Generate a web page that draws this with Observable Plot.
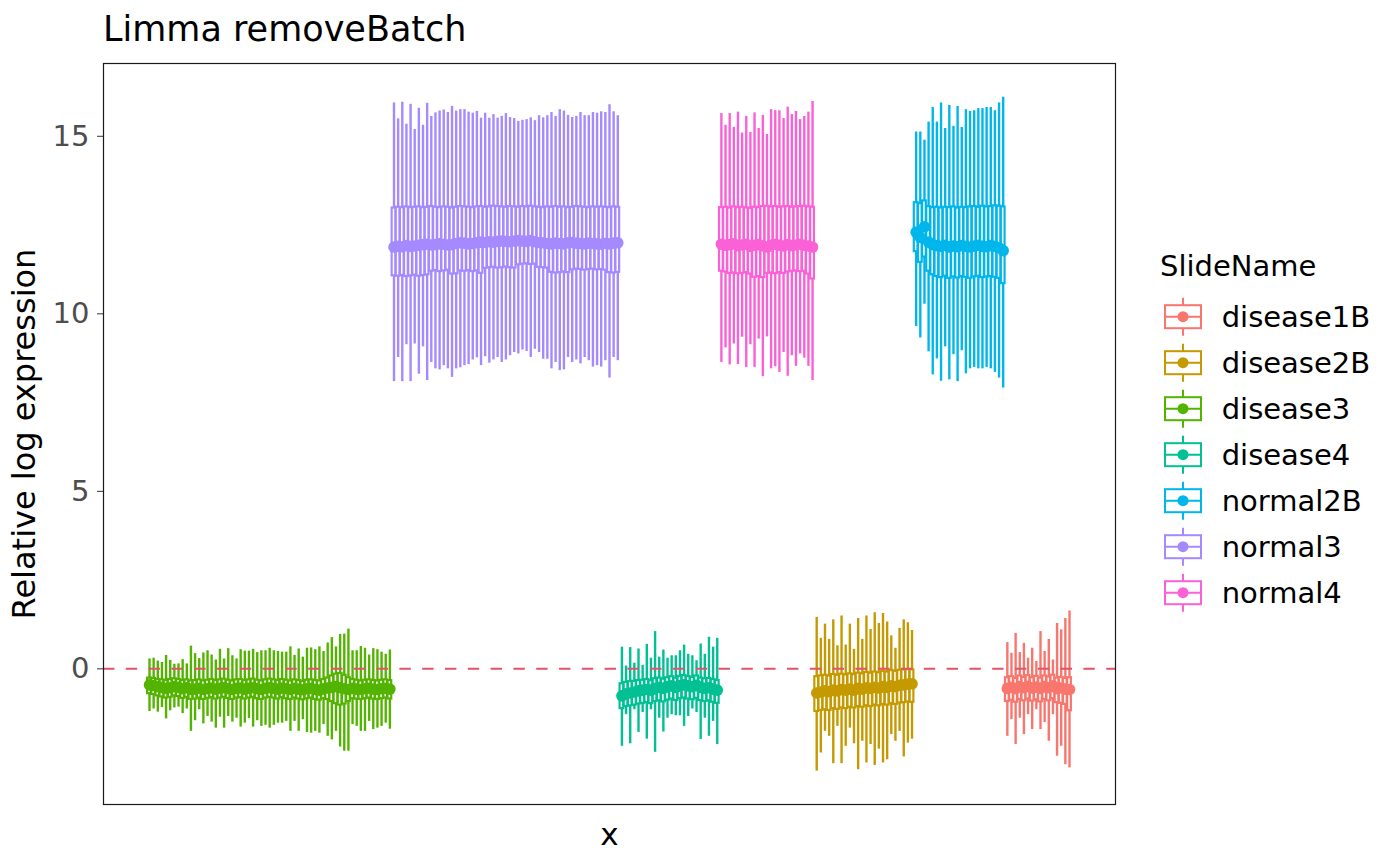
<!DOCTYPE html>
<html><head><meta charset="utf-8">
<script src="https://cdn.jsdelivr.net/npm/d3@7"></script>
<script src="https://cdn.jsdelivr.net/npm/@observablehq/plot@0.6"></script>
<style>
body{margin:0;background:#fff;font-family:"DejaVu Sans",sans-serif;}
#wrap{position:relative;width:1400px;height:865px;overflow:hidden;background:#fff;}
#title{position:absolute;left:103px;top:12px;font-size:35px;line-height:35px;color:#000;white-space:nowrap;}
#chart{position:absolute;left:0;top:52px;}
#legend{position:absolute;left:1150px;top:240px;}
#chart g[aria-label="y-axis label"]{font-size:32px;}
#chart g[aria-label="x-axis label"]{font-size:31px;}
</style></head>
<body><div id="wrap"><div id="title">Limma removeBatch</div><div id="chart"></div><div id="legend"></div></div>
<script>
// ---- categories ----
const slideNames = ["disease1B","disease2B","disease3","disease4","normal2B","normal3","normal4"];
const slideColors = ["#F8766D","#C49A00","#53B400","#00C094","#00B6EB","#A58AFF","#FB61D7"];
const xOrder = ["disease3","normal3","disease4","normal4","disease2B","normal2B","disease1B"];
const yTicks = [0, 5, 10, 15];
const refLine = [0];

// ---- disease3 (59) ----
const disease3_max = [0.28,0.30,0.22,0.18,0.38,0.24,0.13,0.14,0.26,0.14,0.64,0.43,0.29,0.45,0.51,0.39,0.25,0.55,0.28,0.57,0.37,0.28,0.54,0.50,0.50,0.55,0.46,0.51,0.51,0.58,0.51,0.49,0.47,0.47,0.62,0.38,0.56,0.33,0.58,0.59,0.54,0.62,0.49,0.73,0.88,0.62,0.97,0.98,1.12,0.51,0.51,0.63,0.58,0.39,0.57,0.54,0.47,0.41,0.53];
const disease3_q3 = [-0.26,-0.27,-0.30,-0.31,-0.33,-0.30,-0.28,-0.30,-0.33,-0.31,-0.34,-0.33,-0.31,-0.34,-0.32,-0.30,-0.33,-0.31,-0.29,-0.32,-0.34,-0.31,-0.30,-0.33,-0.31,-0.29,-0.32,-0.34,-0.31,-0.29,-0.31,-0.33,-0.30,-0.32,-0.34,-0.31,-0.33,-0.35,-0.32,-0.31,-0.33,-0.34,-0.30,-0.26,-0.20,-0.15,-0.13,-0.18,-0.25,-0.30,-0.32,-0.34,-0.32,-0.31,-0.33,-0.34,-0.32,-0.31,-0.33];
const disease3_med = [-0.45,-0.47,-0.50,-0.52,-0.55,-0.53,-0.50,-0.52,-0.56,-0.53,-0.58,-0.57,-0.55,-0.58,-0.56,-0.54,-0.57,-0.55,-0.53,-0.56,-0.58,-0.55,-0.54,-0.57,-0.55,-0.53,-0.56,-0.58,-0.55,-0.53,-0.55,-0.57,-0.54,-0.56,-0.58,-0.55,-0.57,-0.59,-0.56,-0.55,-0.58,-0.60,-0.56,-0.54,-0.52,-0.50,-0.53,-0.56,-0.58,-0.55,-0.57,-0.58,-0.56,-0.55,-0.57,-0.58,-0.56,-0.55,-0.57];
const disease3_q1 = [-0.70,-0.72,-0.76,-0.79,-0.82,-0.80,-0.76,-0.78,-0.83,-0.80,-0.86,-0.85,-0.82,-0.86,-0.83,-0.81,-0.85,-0.82,-0.80,-0.83,-0.86,-0.82,-0.81,-0.85,-0.82,-0.80,-0.84,-0.86,-0.82,-0.80,-0.82,-0.85,-0.81,-0.84,-0.86,-0.82,-0.85,-0.87,-0.84,-0.82,-0.86,-0.88,-0.84,-0.86,-0.92,-0.98,-1.02,-0.99,-0.92,-0.84,-0.85,-0.86,-0.84,-0.82,-0.85,-0.86,-0.84,-0.82,-0.85];
const disease3_min = [-1.20,-1.13,-1.22,-1.09,-1.41,-1.18,-1.10,-1.08,-1.26,-1.13,-1.76,-1.46,-1.15,-1.55,-1.34,-1.50,-1.67,-1.36,-1.67,-1.34,-1.50,-1.39,-1.64,-1.53,-1.40,-1.64,-1.46,-1.62,-1.59,-1.67,-1.59,-1.53,-1.53,-1.48,-1.76,-1.48,-1.76,-1.43,-1.79,-1.81,-1.76,-1.81,-1.57,-1.90,-2.00,-1.76,-2.20,-2.32,-2.32,-1.57,-1.62,-1.76,-1.76,-1.48,-1.71,-1.67,-1.62,-1.53,-1.70];

// ---- normal3 (55) ----
const normal3_max = [15.94,15.49,15.96,15.34,15.90,15.19,15.79,15.31,15.93,15.56,15.66,15.71,15.74,15.67,15.84,15.71,15.75,15.75,15.68,15.65,15.70,15.51,15.65,15.51,15.61,15.51,15.56,15.64,15.53,15.50,15.42,15.45,15.47,15.52,15.44,15.58,15.52,15.58,15.67,15.56,15.75,15.71,15.59,15.53,15.56,15.67,15.58,15.58,15.67,15.65,15.69,15.67,15.89,15.69,15.58];
const normal3_q3 = [12.98,13.00,12.99,13.01,12.99,13.00,13.01,12.99,13.00,13.02,13.00,12.99,13.01,13.00,12.98,13.00,13.02,13.01,13.00,12.99,13.01,13.02,13.00,13.01,13.03,13.02,13.01,13.00,13.02,13.01,13.00,13.02,13.01,13.03,13.01,13.00,12.99,13.01,13.00,13.02,13.00,13.01,12.99,13.00,13.02,13.01,13.00,12.99,13.01,13.00,13.01,13.00,12.99,13.01,13.00];
const normal3_med = [11.88,11.90,11.89,11.92,11.90,11.91,11.93,11.95,11.96,11.94,11.95,11.97,11.96,11.94,11.95,11.98,12.00,11.99,11.97,11.98,12.00,12.02,12.01,12.03,12.02,12.04,12.05,12.04,12.03,12.05,12.06,12.05,12.04,12.06,12.03,12.01,12.00,11.98,11.97,11.99,11.98,11.97,12.00,12.01,11.99,11.98,11.97,11.99,11.98,11.97,11.96,11.98,11.97,11.99,12.00];
const normal3_q1 = [11.07,11.06,11.08,11.05,11.07,11.09,11.06,11.08,11.10,11.20,11.22,11.19,11.21,11.23,11.12,11.13,11.21,11.20,11.22,11.19,11.21,11.14,11.28,11.30,11.31,11.29,11.30,11.32,11.30,11.29,11.38,11.40,11.41,11.39,11.40,11.31,11.30,11.29,11.17,11.15,11.16,11.18,11.16,11.24,11.26,11.25,11.23,11.25,11.26,11.24,11.25,11.23,11.16,11.15,11.17];
const normal3_min = [8.09,8.77,8.09,9.13,8.09,9.15,8.30,9.07,8.12,8.63,8.45,8.42,8.54,8.45,8.21,8.45,8.48,8.54,8.57,8.70,8.76,8.54,8.79,8.61,8.70,8.77,8.63,8.70,8.82,8.91,8.87,8.98,8.94,8.77,9.00,8.91,8.72,8.72,8.45,8.63,8.40,8.42,8.77,8.63,8.70,8.59,8.77,8.68,8.50,8.54,8.50,8.68,8.19,8.77,8.68];

// ---- disease4 (24) ----
const disease4_max = [0.61,0.08,0.60,0.16,0.56,0.10,0.69,0.30,1.05,0.33,0.53,0.30,0.37,0.37,0.51,0.67,0.41,0.37,0.23,0.70,0.41,0.89,0.61,0.86];
const disease4_q3 = [-0.42,-0.38,-0.36,-0.35,-0.33,-0.32,-0.30,-0.33,-0.28,-0.26,-0.29,-0.25,-0.22,-0.26,-0.21,-0.19,-0.22,-0.24,-0.20,-0.26,-0.28,-0.27,-0.30,-0.33];
const disease4_med = [-0.76,-0.70,-0.68,-0.65,-0.62,-0.60,-0.58,-0.60,-0.55,-0.52,-0.55,-0.50,-0.48,-0.52,-0.47,-0.45,-0.48,-0.50,-0.46,-0.52,-0.55,-0.53,-0.57,-0.60];
const disease4_q1 = [-1.12,-1.06,-1.04,-1.02,-0.99,-0.97,-0.95,-0.98,-0.92,-0.90,-0.93,-0.88,-0.85,-0.89,-0.84,-0.82,-0.85,-0.87,-0.83,-0.89,-0.92,-0.90,-0.94,-0.97];
const disease4_min = [-2.18,-1.29,-2.11,-1.15,-1.79,-1.23,-1.98,-1.15,-2.35,-1.39,-1.78,-1.39,-1.29,-1.32,-1.32,-1.62,-1.34,-1.13,-1.23,-1.99,-1.39,-1.90,-1.48,-2.13];

// ---- normal4 (23) ----
const normal4_max = [15.64,15.31,15.64,15.25,15.68,15.09,15.56,15.11,15.66,15.22,15.59,15.05,15.75,15.72,15.72,15.50,15.82,15.61,15.70,15.47,15.56,15.68,15.98];
const normal4_q3 = [12.99,13.00,12.98,13.01,12.99,13.00,12.98,12.97,13.00,12.99,13.02,13.03,13.01,13.02,13.00,13.01,13.02,13.00,13.01,13.02,13.03,13.01,13.00];
const normal4_med = [11.96,11.93,11.95,11.97,11.92,11.94,11.96,11.90,11.93,11.95,11.91,11.88,11.94,11.96,11.93,11.91,11.95,11.92,11.94,11.96,11.93,11.91,11.88];
const normal4_q1 = [11.20,11.18,11.14,11.15,11.13,11.14,11.16,11.12,11.03,11.05,11.02,11.14,11.15,11.13,11.16,11.14,11.18,11.20,11.21,11.19,11.20,11.12,10.98];
const normal4_min = [8.63,9.04,8.56,9.15,8.57,9.34,8.49,9.13,8.49,9.29,8.23,9.35,8.45,8.51,8.35,8.91,8.24,8.82,8.52,8.87,8.75,8.52,8.12];

// ---- disease2B (24) ----
const disease2B_max = [1.45,0.86,1.26,0.83,1.38,0.65,1.49,0.67,1.26,0.55,1.42,0.83,1.49,1.11,1.58,1.28,1.56,1.32,0.93,0.58,1.14,1.38,1.30,1.08];
const disease2B_q3 = [-0.22,-0.20,-0.18,-0.20,-0.16,-0.18,-0.15,-0.17,-0.14,-0.16,-0.12,-0.14,-0.10,-0.12,-0.09,-0.11,-0.07,-0.09,-0.05,-0.07,-0.04,-0.03,-0.02,-0.03];
const disease2B_med = [-0.68,-0.65,-0.62,-0.64,-0.60,-0.62,-0.58,-0.60,-0.57,-0.60,-0.55,-0.57,-0.53,-0.55,-0.52,-0.54,-0.50,-0.52,-0.48,-0.50,-0.46,-0.45,-0.43,-0.42];
const disease2B_q1 = [-1.20,-1.17,-1.15,-1.17,-1.12,-1.14,-1.10,-1.12,-1.08,-1.10,-1.06,-1.08,-1.04,-1.06,-1.02,-1.04,-1.00,-1.02,-0.98,-1.00,-0.96,-0.95,-0.93,-0.94];
const disease2B_min = [-2.88,-2.37,-1.76,-1.90,-2.67,-1.62,-2.67,-2.18,-1.67,-2.11,-2.84,-2.04,-2.65,-2.13,-2.72,-2.26,-2.65,-2.56,-1.85,-2.04,-1.76,-2.48,-2.09,-1.98];

// ---- normal2B (22) ----
const normal2B_max = [15.12,15.12,14.89,15.40,15.81,15.40,15.94,15.22,15.87,15.28,15.84,15.25,15.75,15.70,15.72,15.78,15.78,15.81,15.81,15.72,15.94,16.10];
const normal2B_q3 = [13.13,13.10,13.18,13.02,12.99,13.00,12.98,13.00,12.99,13.01,12.98,13.00,12.99,13.01,13.02,13.00,13.03,13.01,13.02,13.04,13.03,13.01];
const normal2B_med = [12.30,12.15,12.45,12.02,11.95,11.92,11.90,11.93,11.88,11.91,11.89,11.92,11.90,11.88,11.91,11.93,11.90,11.89,11.92,11.90,11.86,11.78];
const normal2B_q1 = [11.75,11.45,11.60,11.20,11.10,11.05,11.02,11.06,11.00,11.04,11.01,11.05,11.03,11.00,11.04,11.06,11.02,11.04,11.05,11.03,11.00,10.85];
const normal2B_min = [9.64,9.32,10.27,8.93,8.28,8.73,8.10,9.07,8.14,8.85,8.09,8.96,8.31,8.45,8.49,8.45,8.45,8.49,8.45,8.35,8.19,7.91];

// ---- disease1B (16) ----
const disease1B_max = [0.74,0.44,1.00,0.46,0.72,0.30,0.58,0.21,1.05,0.49,0.83,0.25,1.28,1.10,1.42,1.63];
const disease1B_q3 = [-0.25,-0.22,-0.27,-0.20,-0.24,-0.19,-0.25,-0.21,-0.26,-0.20,-0.23,-0.18,-0.26,-0.24,-0.27,-0.25];
const disease1B_med = [-0.55,-0.52,-0.56,-0.50,-0.53,-0.49,-0.54,-0.51,-0.55,-0.50,-0.53,-0.48,-0.56,-0.54,-0.57,-0.58];
const disease1B_q1 = [-0.92,-0.88,-0.94,-0.86,-0.90,-0.85,-0.91,-0.87,-0.93,-0.86,-0.90,-0.84,-0.95,-0.97,-1.00,-1.18];
const disease1B_min = [-1.90,-1.43,-2.13,-1.39,-1.85,-1.29,-1.71,-1.15,-1.71,-1.51,-2.04,-1.29,-2.46,-2.18,-2.70,-2.79];

// ---- assemble table for Plot ----
const stats = {
  disease3: [disease3_max, disease3_q3, disease3_med, disease3_q1, disease3_min],
  normal3: [normal3_max, normal3_q3, normal3_med, normal3_q1, normal3_min],
  disease4: [disease4_max, disease4_q3, disease4_med, disease4_q1, disease4_min],
  normal4: [normal4_max, normal4_q3, normal4_med, normal4_q1, normal4_min],
  disease2B: [disease2B_max, disease2B_q3, disease2B_med, disease2B_q1, disease2B_min],
  normal2B: [normal2B_max, normal2B_q3, normal2B_med, normal2B_q1, normal2B_min],
  disease1B: [disease1B_max, disease1B_q3, disease1B_med, disease1B_q1, disease1B_min]
};
const data = [];
let k = 0;
for (const name of xOrder) {
  const [mx, q3, md, q1, mn] = stats[name];
  for (let i = 0; i < mx.length; i++) {
    k++;
    data.push({x: k, name, max: mx[i], q3: q3[i], med: md[i], q1: q1[i], min: mn[i]});
  }
}
const N = data.length;
const half = 0.45;

const plot = Plot.plot({
  width: 1400, height: 813,
  marginLeft: 103, marginRight: 285, marginTop: 11, marginBottom: 61,
  style: {fontFamily: "DejaVu Sans", background: "white", color: "black"},
  x: {domain: [1 - 0.05 * (N - 1), N + 0.05 * (N - 1)]},
  y: {domain: [-3.82, 17.05]},
  color: {domain: slideNames, range: slideColors},
  marks: [
    Plot.ruleX(data, {x: "x", y1: "q3", y2: "max", stroke: "name", strokeWidth: 2.4}),
    Plot.ruleX(data, {x: "x", y1: "q1", y2: "min", stroke: "name", strokeWidth: 2.4}),
    Plot.rect(data, {x1: d => d.x - half, x2: d => d.x + half, y1: "q1", y2: "q3", fill: "white", stroke: "name", strokeWidth: 2.2}),
    Plot.ruleY(data, {y: "med", x1: d => d.x - half, x2: d => d.x + half, stroke: "name", strokeWidth: 2.2}),
    Plot.dot(data, {x: "x", y: "med", fill: "name", r: 5.8}),
    Plot.ruleY(refLine, {stroke: "#E4516A", strokeWidth: 2, strokeDasharray: "11.4,11.4"}),
    Plot.frame({stroke: "#1a1a1a", strokeWidth: 1.2}),
    Plot.axisY({ticks: yTicks, tickSize: 6, tickPadding: 8, fontSize: 29, stroke: "#333333", fill: "#4D4D4D", label: null}),
    Plot.axisY({ticks: [], tickSize: 0, label: "Relative log expression", labelAnchor: "center", labelArrow: "none", labelOffset: 91, fill: "black"}),
    Plot.axisX({ticks: [], tickSize: 0, label: "x", labelAnchor: "center", labelArrow: "none", labelOffset: 40, fill: "black"})
  ]
});
document.getElementById("chart").appendChild(plot);

// ---- legend ----
const color = plot.scale("color");
const lg = d3.select("#legend").append("svg").attr("width", 250).attr("height", 400)
  .style("font-family", "DejaVu Sans");
lg.append("text").attr("x", 10).attr("y", 36).attr("font-size", 29).text("SlideName");
slideNames.forEach((name, i) => {
  const c = 76.7 + 46 * i;
  const col = color.apply(name);
  const g = lg.append("g");
  g.append("line").attr("x1", 33).attr("x2", 33).attr("y1", c - 19).attr("y2", c + 19).attr("stroke", col).attr("stroke-width", 2);
  g.append("rect").attr("x", 15).attr("y", c - 11.5).attr("width", 36).attr("height", 23).attr("fill", "white").attr("stroke", col).attr("stroke-width", 2);
  g.append("line").attr("x1", 15).attr("x2", 51).attr("y1", c).attr("y2", c).attr("stroke", col).attr("stroke-width", 2);
  g.append("circle").attr("cx", 33).attr("cy", c).attr("r", 5.5).attr("fill", col);
  g.append("text").attr("x", 71.7).attr("y", c + 9.8).attr("font-size", 29).text(name);
});
</script>
</body></html>
